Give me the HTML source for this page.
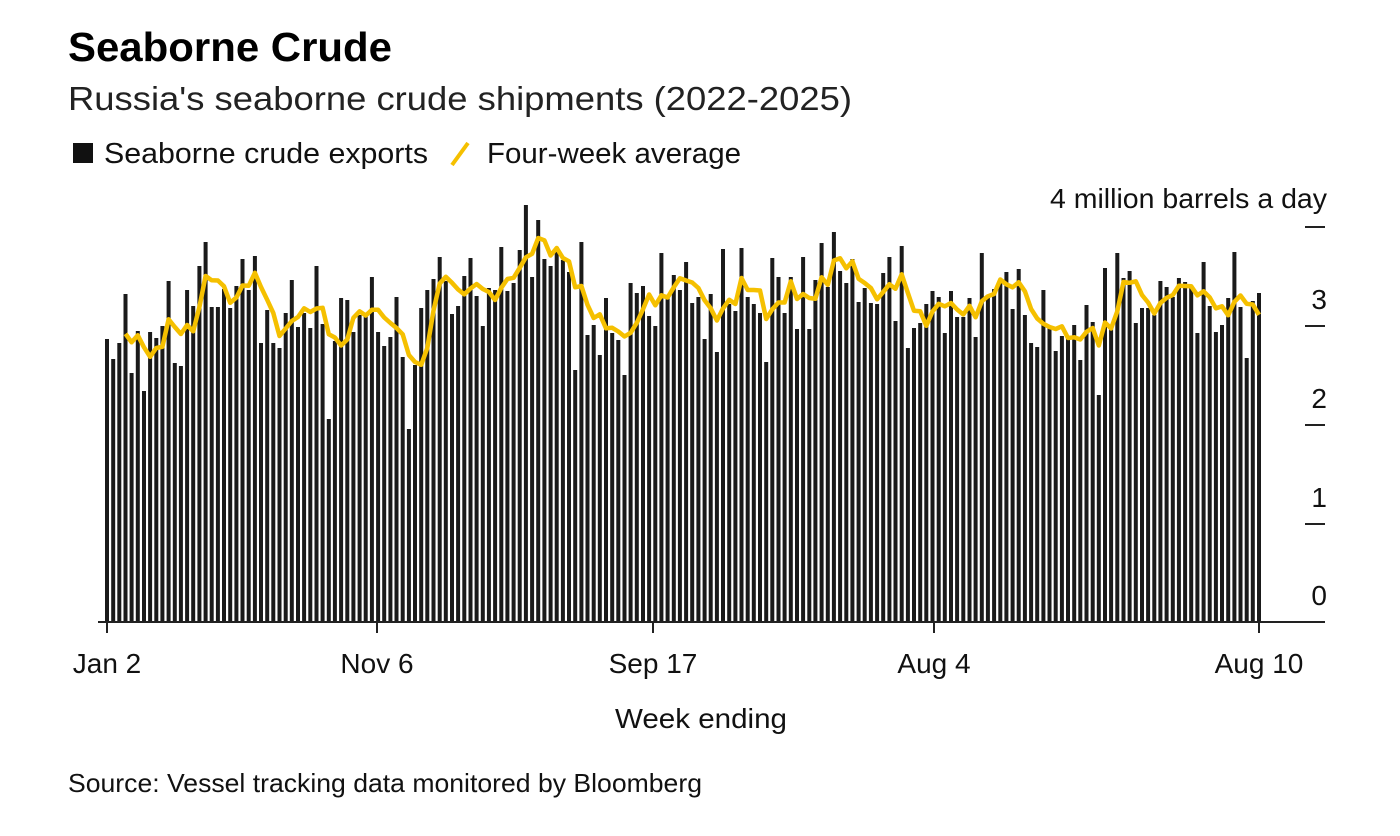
<!DOCTYPE html>
<html><head><meta charset="utf-8"><style>
body{margin:0;background:#fff;width:1400px;height:836px;overflow:hidden;font-family:"Liberation Sans",Arial,sans-serif;color:#111}
svg{position:absolute;left:0;top:0}
</style></head><body>
<svg id="s" width="1400" height="836" xmlns="http://www.w3.org/2000/svg" font-family="Liberation Sans, Arial, sans-serif">
<text x="68" y="61" font-size="41" font-weight="bold" fill="#000" textLength="324" lengthAdjust="spacingAndGlyphs">Seaborne Crude</text>
<text x="68" y="110" font-size="33" fill="#222" textLength="784" lengthAdjust="spacingAndGlyphs">Russia's seaborne crude shipments (2022-2025)</text>
<rect x="73" y="143" width="20" height="20" fill="#111"/>
<text x="104" y="163" font-size="29" fill="#111" textLength="324" lengthAdjust="spacingAndGlyphs">Seaborne crude exports</text>
<line x1="452" y1="165" x2="468" y2="143" stroke="#f5c000" stroke-width="4"/>
<text x="487" y="163" font-size="29" fill="#111" textLength="254" lengthAdjust="spacingAndGlyphs">Four-week average</text>
<text x="1327" y="208" font-size="28" text-anchor="end" fill="#111" textLength="277" lengthAdjust="spacingAndGlyphs">4 million barrels a day</text>
<g font-size="28" fill="#111" text-anchor="end">
<text x="1327" y="309">3</text><text x="1327" y="408">2</text><text x="1327" y="507">1</text><text x="1327" y="605">0</text>
</g>
<g stroke="#222" stroke-width="2">
<line x1="1305" y1="227" x2="1325" y2="227"/><line x1="1305" y1="326" x2="1325" y2="326"/>
<line x1="1305" y1="425" x2="1325" y2="425"/><line x1="1305" y1="524" x2="1325" y2="524"/>
</g>
<g id="bars" fill="#1a1a1a"></g>
<polyline id="avg" fill="none" stroke="#f5c000" stroke-width="4.5" stroke-linejoin="round"/>
<line x1="98" y1="622" x2="1325" y2="622" stroke="#222" stroke-width="2"/>
<g stroke="#222" stroke-width="2">
<line x1="107" y1="622" x2="107" y2="633"/><line x1="377" y1="622" x2="377" y2="633"/>
<line x1="653" y1="622" x2="653" y2="633"/><line x1="934" y1="622" x2="934" y2="633"/>
<line x1="1259" y1="622" x2="1259" y2="633"/>
</g>
<g font-size="28" fill="#111" text-anchor="middle">
<text x="107" y="673">Jan 2</text><text x="377" y="673">Nov 6</text><text x="653" y="673">Sep 17</text>
<text x="934" y="673">Aug 4</text><text x="1259" y="673">Aug 10</text>
<text x="701" y="728" textLength="172" lengthAdjust="spacingAndGlyphs">Week ending</text>
</g>
<text x="68" y="792" font-size="26" fill="#111" textLength="634" lengthAdjust="spacingAndGlyphs">Source: Vessel tracking data monitored by Bloomberg</text>
</svg>
<script>
var t=[339,359,343,294,373,331,391,332,338,326,281,363,366,290,306,266,242,307,307,289,308,286,259,290,256,343,310,343,348,313,280,327,313,328,266,324,419,341,298,300,332,315,315,277,332,
346,337,297,357,429,365,308,290,279,257,281,314,306,276,258,296,326,288,290,247,291,283,250,205,277,220,259,266,247,260,272,370,242,335,325,355,298,333,340,375,283,293,286,316,326,253,295,275,290,262,
303,297,339,294,352,249,304,311,248,297,304,313,362,258,277,313,277,329,257,329,280,243,287,232,271,283,259,302,288,303,304,273,257,321,246,348,328,323,304,291,297,333,291,317,317,298,337,
253,297,289,279,272,309,269,315,343,347,290,328,351,336,337,325,360,305,322,395,268,329,253,278,271,323,308,308,315,281,287,297,278,282,288,333,262,306,332,325,298,252,307,358,301,293];
var n=t.length,x0=107,x1=1259,p=(x1-x0)/(n-1),g=document.getElementById('bars'),h='',pts=[];
for(var i=0;i<n;i++){var x=x0+i*p;h+='<rect x="'+(x-2).toFixed(1)+'" y="'+t[i]+'" width="4" height="'+(622-t[i])+'"/>';
if(i>=3){var a=(t[i]+t[i-1]+t[i-2]+t[i-3])/4;pts.push(x.toFixed(1)+','+a.toFixed(1));}}
g.innerHTML=h;document.getElementById('avg').setAttribute('points',pts.join(' '));
</script>
</body></html>
